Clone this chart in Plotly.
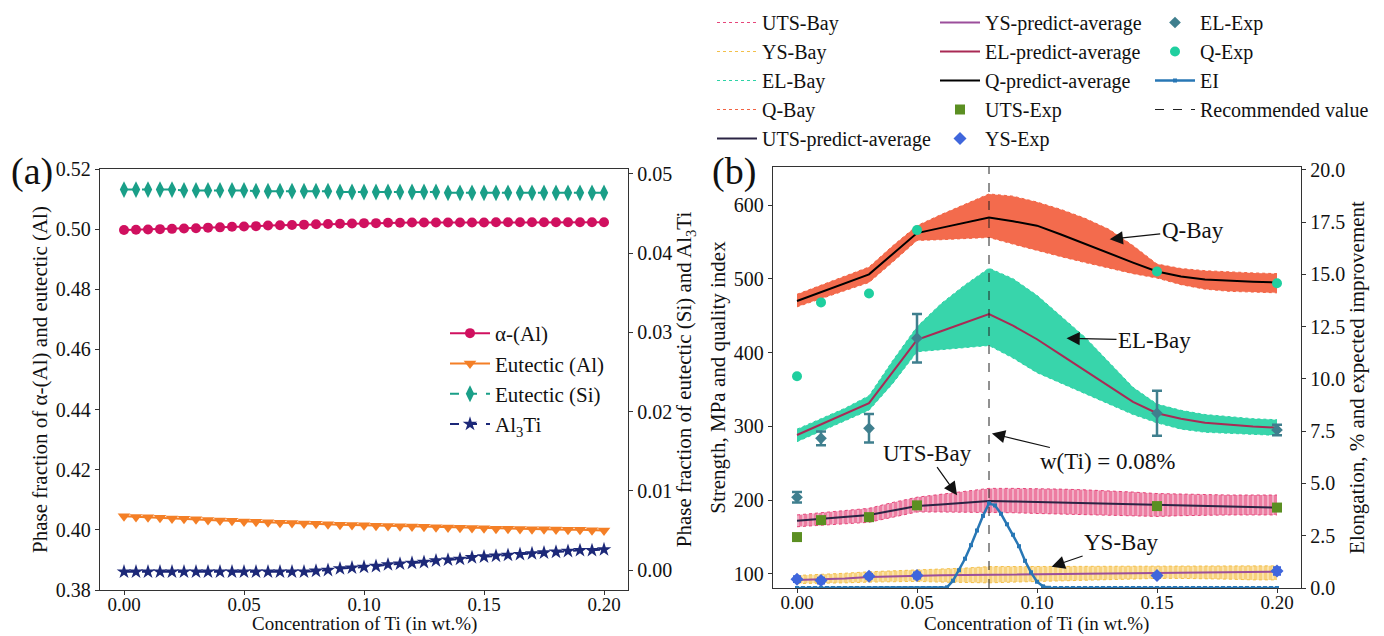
import plotly.graph_objects as go

FONT = "'Liberation Serif', 'Times New Roman', Times, 'DejaVu Serif', serif"
W, H = 1384, 636

# ---------------- (a) phase fractions versus Ti content ----------------
TI_A = [0.000, 0.005, 0.010, 0.015, 0.020, 0.025, 0.030, 0.035, 0.040, 0.045,
        0.050, 0.055, 0.060, 0.065, 0.070, 0.075, 0.080, 0.085, 0.090, 0.095,
        0.100, 0.105, 0.110, 0.115, 0.120, 0.125, 0.130, 0.135, 0.140, 0.145,
        0.150, 0.155, 0.160, 0.165, 0.170, 0.175, 0.180, 0.185, 0.190, 0.195,
        0.200]
ALPHA_AL = [0.4997, 0.4998, 0.4999, 0.5000, 0.5001, 0.5002, 0.5003, 0.5005, 0.5006, 0.5008,
            0.5009, 0.5010, 0.5012, 0.5013, 0.5014, 0.5015, 0.5016, 0.5017, 0.5018, 0.5019,
            0.5020, 0.5020, 0.5021, 0.5021, 0.5022, 0.5022, 0.5022, 0.5022, 0.5022, 0.5022,
            0.5022, 0.5023, 0.5023, 0.5023, 0.5023, 0.5023, 0.5023, 0.5023, 0.5023, 0.5023,
            0.5023]
EUTECTIC_AL = [0.4045, 0.4043, 0.4042, 0.4040, 0.4038, 0.4037, 0.4035, 0.4033, 0.4031, 0.4030,
               0.4028, 0.4027, 0.4025, 0.4024, 0.4023, 0.4021, 0.4020, 0.4019, 0.4017, 0.4016,
               0.4015, 0.4014, 0.4013, 0.4012, 0.4011, 0.4010, 0.4009, 0.4008, 0.4007, 0.4006,
               0.4005, 0.4004, 0.4004, 0.4003, 0.4002, 0.4002, 0.4001, 0.4000, 0.4000, 0.3999,
               0.3998]
EUTECTIC_SI = [0.0480, 0.0480, 0.0480, 0.0480, 0.0480, 0.0479, 0.0479, 0.0479, 0.0479, 0.0479,
               0.0479, 0.0478, 0.0478, 0.0478, 0.0478, 0.0478, 0.0478, 0.0478, 0.0477, 0.0477,
               0.0477, 0.0477, 0.0477, 0.0477, 0.0477, 0.0477, 0.0477, 0.0476, 0.0476, 0.0476,
               0.0476, 0.0476, 0.0476, 0.0476, 0.0476, 0.0476, 0.0476, 0.0476, 0.0476, 0.0476,
               0.0476]
AL3TI = [-0.0002, -0.0002, -0.0002, -0.0002, -0.0002, -0.0002, -0.0002, -0.0002, -0.0002, -0.0002,
         -0.0002, -0.0002, -0.0002, -0.0002, -0.0002, -0.0002, -0.0001, 0.0000, 0.0002, 0.0003,
         0.0004, 0.0005, 0.0007, 0.0008, 0.0009, 0.0010, 0.0012, 0.0013, 0.0014, 0.0016,
         0.0017, 0.0018, 0.0019, 0.0020, 0.0021, 0.0022, 0.0023, 0.0024, 0.0025, 0.0025,
         0.0026]

# ---------------- (b) properties, Bayesian predictions and EI ----------------
TI_B = [0.00, 0.01, 0.02, 0.03, 0.04, 0.05, 0.06, 0.07, 0.08, 0.09, 0.10,
        0.11, 0.12, 0.13, 0.14, 0.15, 0.16, 0.17, 0.18, 0.19, 0.20]

Q_AVG = [470, 482, 494, 506, 534, 562, 569, 576, 583, 578, 572,
         560, 547, 535, 522, 510, 503, 499, 497, 496, 495]
Q_BAY_LO = [462, 473, 484, 495, 523, 552, 553, 554, 556, 547, 538,
            530, 522, 514, 507, 501, 492, 486, 483, 482, 481]
Q_BAY_HI = [479, 491, 503, 516, 545, 572, 587, 601, 615, 612, 604,
            594, 582, 567, 545, 520, 514, 511, 509, 508, 507]

EL_AVG = [7.32, 7.83, 8.33, 8.84, 10.35, 11.87, 12.28, 12.69, 13.10, 12.55, 11.90,
          11.15, 10.40, 9.65, 8.90, 8.36, 8.10, 7.90, 7.80, 7.72, 7.67]
EL_BAY_LO = [7.0, 7.5, 8.0, 8.5, 9.8, 11.3, 11.4, 11.5, 11.6, 11.0, 10.3,
             9.8, 9.3, 8.8, 8.3, 7.9, 7.6, 7.45, 7.4, 7.35, 7.3]
EL_BAY_HI = [7.6, 8.1, 8.6, 9.2, 10.9, 12.5, 13.6, 14.5, 15.3, 14.8, 14.0,
             13.0, 12.0, 10.8, 9.6, 8.8, 8.5, 8.3, 8.2, 8.1, 8.05]

UTS_AVG = [172, 174.5, 177, 180, 186, 192, 194.3, 196.6, 199, 198.2, 197.4,
           196.6, 195.8, 195, 194, 193, 192.4, 191.8, 191.2, 190.6, 190]
UTS_BAY_LO = [164, 166, 168, 170, 177, 184, 184, 184, 184, 183, 182,
              181, 180, 179, 178, 178, 179, 180, 180, 180, 180]
UTS_BAY_HI = [180, 183, 186, 189, 197, 204, 208, 212, 216, 216, 216,
              215, 214, 213, 211, 209, 208, 208, 207, 207, 207]

YS_AVG = [92, 92.5, 94, 96, 97, 98, 98.3, 98.6, 99, 99.2, 99.5,
          99.7, 100, 100.2, 100.5, 101, 101.4, 101.8, 102.2, 102.6, 103]
YS_BAY_LO = [87, 87, 88, 89, 90, 90, 89, 88, 88, 89, 90,
             91, 92, 93, 93, 94, 94, 94, 93, 92, 92]
YS_BAY_HI = [98, 99, 101, 103, 104, 105, 106, 108, 110, 110, 111,
             111, 111, 110, 110, 110, 110, 110, 110, 111, 111]

TI_EXP = [0.00, 0.01, 0.03, 0.05, 0.15, 0.20]
UTS_EXP = [150, 173, 177, 193, 192, 190]
UTS_EXP_ERR = [3, 3, 4, 4, 3, 3]
YS_EXP = [93, 91, 97, 98, 98, 104]
YS_EXP_ERR = [4, 4, 3, 4, 3, 5]
EL_EXP = [4.34, 7.16, 7.64, 11.95, 8.36, 7.56]
EL_EXP_ERR = [0.25, 0.33, 0.68, 1.16, 1.08, 0.25]
Q_EXP = [368, 468, 480, 566, 510, 494]

TI_EI = [0.0000, 0.0025, 0.0050, 0.0075, 0.0100, 0.0125, 0.0150, 0.0175, 0.0200, 0.0225,
         0.0250, 0.0275, 0.0300, 0.0325, 0.0350, 0.0375, 0.0400, 0.0425, 0.0450, 0.0475,
         0.0500, 0.0525, 0.0550, 0.0575, 0.0600, 0.0625, 0.0650, 0.0675, 0.0700, 0.0725,
         0.0750, 0.0775, 0.0800, 0.0825, 0.0850, 0.0875, 0.0900, 0.0925, 0.0950, 0.0975,
         0.1000, 0.1025, 0.1050, 0.1075, 0.1100, 0.1125, 0.1150, 0.1175, 0.1200, 0.1225,
         0.1250, 0.1275, 0.1300, 0.1325, 0.1350, 0.1375, 0.1400, 0.1425, 0.1450, 0.1475,
         0.1500, 0.1525, 0.1550, 0.1575, 0.1600, 0.1625, 0.1650, 0.1675, 0.1700, 0.1725,
         0.1750, 0.1775, 0.1800, 0.1825, 0.1850, 0.1875, 0.1900, 0.1925, 0.1950, 0.1975,
         0.2000]
EI = [0.00, 0.00, 0.00, 0.00, 0.00, 0.00, 0.00, 0.00, 0.00, 0.00,
      0.00, 0.00, 0.00, 0.00, 0.00, 0.00, 0.00, 0.00, 0.00, 0.00,
      0.00, 0.00, 0.00, 0.00, 0.00, 0.03, 0.35, 0.85, 1.40, 2.05,
      2.75, 3.45, 4.05, 3.95, 3.55, 3.05, 2.55, 2.00, 1.30, 0.75,
      0.30, 0.08, 0.01, 0.00, 0.00, 0.00, 0.00, 0.00, 0.00, 0.00,
      0.00, 0.00, 0.00, 0.00, 0.00, 0.00, 0.00, 0.00, 0.00, 0.00,
      0.00, 0.00, 0.00, 0.00, 0.00, 0.00, 0.00, 0.00, 0.00, 0.00,
      0.00, 0.00, 0.00, 0.00, 0.00, 0.00, 0.00, 0.00, 0.00, 0.00,
      0.00]
TI_RECOMMENDED = 0.08

# axis ranges
X_RANGE = [-0.01, 0.21]
A_LEFT = [0.38, 0.52]
A_RIGHT = [-0.0025, 0.0506]
B_LEFT = [81, 651.5]
B_RIGHT = [0, 20.14]

# colours
C_ALPHA, C_EUT_AL, C_EUT_SI, C_AL3TI = "#d0105f", "#f47f26", "#1a9f88", "#1c2878"
C_UTS_BAY, C_YS_BAY, C_EL_BAY, C_Q_BAY = "#e6467a", "#f3c04a", "#2dd3a6", "#f26343"
C_UTS_AVG, C_YS_AVG, C_EL_AVG, C_Q_AVG = "#2b2444", "#9b4f9b", "#a92a55", "#000000"
C_UTS_EXP, C_YS_EXP, C_EL_EXP, C_Q_EXP = "#5b8f22", "#3f66dc", "#3f7f8e", "#1fcf9f"
C_EI = "#2877b5"
AXC = "#333333"
TXT = "#111111"

fig = go.Figure()

# ---- panel (a) ----
fig.add_trace(go.Scatter(x=TI_A, y=ALPHA_AL, name="α-(Al)", mode="lines+markers",
                         line=dict(color=C_ALPHA, width=2),
                         marker=dict(symbol="circle", size=10, color=C_ALPHA),
                         xaxis="x", yaxis="y", legend="legend"))
fig.add_trace(go.Scatter(x=TI_A, y=EUTECTIC_AL, name="Eutectic (Al)", mode="lines+markers",
                         line=dict(color=C_EUT_AL, width=2),
                         marker=dict(symbol="triangle-down", size=11, color=C_EUT_AL),
                         xaxis="x", yaxis="y", legend="legend"))
fig.add_trace(go.Scatter(x=TI_A, y=EUTECTIC_SI, name="Eutectic (Si)", mode="lines+markers",
                         line=dict(color=C_EUT_SI, width=2, dash="dash"),
                         marker=dict(symbol="diamond-tall", size=12, color=C_EUT_SI),
                         xaxis="x", yaxis="y2", legend="legend"))
fig.add_trace(go.Scatter(x=TI_A, y=AL3TI, name="Al<sub>3</sub>Ti", mode="lines+markers",
                         line=dict(color=C_AL3TI, width=2, dash="dash"),
                         marker=dict(symbol="star", size=11, color=C_AL3TI),
                         xaxis="x", yaxis="y2", legend="legend"))


# ---- panel (b) ----
def bay_band(lo, hi, name, color, fill, rank, yaxis, pattern=None):
    fig.add_trace(go.Scatter(x=TI_B, y=lo, name=name, mode="lines",
                             line=dict(color=color, width=1, dash="dot"),
                             xaxis="x2", yaxis=yaxis, legend="legend2", legendrank=rank))
    kw = dict(fillpattern=pattern) if pattern else {}
    fig.add_trace(go.Scatter(x=TI_B, y=hi, mode="lines", showlegend=False,
                             line=dict(color=color, width=1, dash="dot"),
                             fill="tonexty", fillcolor=fill,
                             xaxis="x2", yaxis=yaxis, **kw))


bay_band(UTS_BAY_LO, UTS_BAY_HI, "UTS-Bay", C_UTS_BAY, "rgba(240,150,180,0.7)", 1, "y3",
         dict(shape="|", fgcolor=C_UTS_BAY, size=5, solidity=0.65))
bay_band(YS_BAY_LO, YS_BAY_HI, "YS-Bay", C_YS_BAY, "rgba(250,220,150,0.75)", 2, "y3",
         dict(shape="|", fgcolor=C_YS_BAY, size=5, solidity=0.65))
bay_band(Q_BAY_LO, Q_BAY_HI, "Q-Bay", C_Q_BAY, "rgba(242,99,67,0.95)", 4, "y3")

fig.add_trace(go.Scatter(x=TI_B, y=UTS_AVG, name="UTS-predict-average", mode="lines",
                         line=dict(color=C_UTS_AVG, width=2),
                         xaxis="x2", yaxis="y3", legend="legend2", legendrank=5))
fig.add_trace(go.Scatter(x=TI_B, y=YS_AVG, name="YS-predict-average", mode="lines",
                         line=dict(color=C_YS_AVG, width=2),
                         xaxis="x2", yaxis="y3", legend="legend3", legendrank=6))
fig.add_trace(go.Scatter(x=TI_B, y=Q_AVG, name="Q-predict-average", mode="lines",
                         line=dict(color=C_Q_AVG, width=2),
                         xaxis="x2", yaxis="y3", legend="legend3", legendrank=8))

fig.add_trace(go.Scatter(x=TI_EXP, y=UTS_EXP, name="UTS-Exp", mode="markers",
                         marker=dict(symbol="square", size=10, color=C_UTS_EXP),
                         error_y=dict(type="data", array=UTS_EXP_ERR, color=C_UTS_EXP,
                                      thickness=2, width=4),
                         xaxis="x2", yaxis="y3", legend="legend3", legendrank=9))
fig.add_trace(go.Scatter(x=TI_EXP, y=YS_EXP, name="YS-Exp", mode="markers",
                         marker=dict(symbol="diamond", size=10, color=C_YS_EXP),
                         error_y=dict(type="data", array=YS_EXP_ERR, color=C_YS_EXP,
                                      thickness=2, width=4),
                         xaxis="x2", yaxis="y3", legend="legend3", legendrank=10))
fig.add_trace(go.Scatter(x=TI_EXP, y=Q_EXP, name="Q-Exp", mode="markers",
                         marker=dict(symbol="circle", size=10, color=C_Q_EXP),
                         xaxis="x2", yaxis="y3", legend="legend4", legendrank=12))

# elongation-scale traces on the right axis
bay_band(EL_BAY_LO, EL_BAY_HI, "EL-Bay", C_EL_BAY, "rgba(45,211,166,0.95)", 3, "y4")
fig.add_trace(go.Scatter(x=TI_B, y=EL_AVG, name="EL-predict-average", mode="lines",
                         line=dict(color=C_EL_AVG, width=2),
                         xaxis="x2", yaxis="y4", legend="legend3", legendrank=7))
fig.add_trace(go.Scatter(x=TI_EXP, y=EL_EXP, name="EL-Exp", mode="markers",
                         marker=dict(symbol="diamond", size=9, color=C_EL_EXP),
                         error_y=dict(type="data", array=EL_EXP_ERR, color=C_EL_EXP,
                                      thickness=2.5, width=5),
                         xaxis="x2", yaxis="y4", legend="legend4", legendrank=11))
fig.add_trace(go.Scatter(x=TI_EI, y=EI, name="EI", mode="lines+markers",
                         line=dict(color=C_EI, width=2.5),
                         marker=dict(symbol="square", size=4, color=C_EI),
                         xaxis="x2", yaxis="y4", legend="legend4", legendrank=13))
fig.add_trace(go.Scatter(x=[TI_RECOMMENDED, TI_RECOMMENDED], y=B_RIGHT,
                         name="Recommended value", mode="lines",
                         line=dict(color="#222222", width=1, dash="dash"),
                         xaxis="x2", yaxis="y4", legend="legend4", legendrank=14))

# ---- axes ----
tickfont = dict(family=FONT, size=20, color=TXT)
xtickfont = dict(family=FONT, size=19, color=TXT)
titlefont = dict(family=FONT, size=21, color=TXT)
xtitlefont = dict(family=FONT, size=19, color=TXT)
common = dict(showgrid=False, zeroline=False, ticks="outside", ticklen=4, tickwidth=1,
              tickcolor=AXC, showline=True, linecolor=AXC, linewidth=1.3)

dom_a_x = [100 / W, 628 / W]
dom_b_x = [773 / W, 1301 / W]
dom_a_y = [1 - 590 / H, 1 - 169 / H]
dom_b_y = [1 - 588 / H, 1 - 167 / H]

fig.update_layout(
    xaxis=dict(domain=dom_a_x, range=X_RANGE, anchor="y", tickvals=[0, 0.05, 0.1, 0.15, 0.2],
               tickformat=".2f", mirror=True, tickfont=xtickfont, ticklabelstandoff=-7, **common),
    yaxis=dict(domain=dom_a_y, range=A_LEFT, anchor="x", dtick=0.02, tick0=0.38, tickformat=".2f",
               tickfont=tickfont,
               title=dict(text="Phase fraction of α-(Al) and eutectic (Al)", font=titlefont, standoff=2),
               **common),
    yaxis2=dict(overlaying="y", side="right", anchor="x", range=A_RIGHT, dtick=0.01, tick0=0,
                tickformat=".2f", tickfont=tickfont,
                title=dict(text="Phase fraction of eutectic (Si) and Al<sub>3</sub>Ti",
                           font=titlefont, standoff=2), **common),
    xaxis2=dict(domain=dom_b_x, range=X_RANGE, anchor="y3", tickvals=[0, 0.05, 0.1, 0.15, 0.2],
                tickformat=".2f", mirror=True, tickfont=xtickfont, ticklabelstandoff=-7, **common),
    yaxis3=dict(domain=dom_b_y, range=B_LEFT, anchor="x2", dtick=100, tick0=0, tickfont=tickfont,
                title=dict(text="Strength, MPa and quality index", font=titlefont, standoff=2),
                **common),
    yaxis4=dict(overlaying="y3", side="right", anchor="x2", range=B_RIGHT, dtick=2.5, tick0=0,
                tickformat=".1f", tickfont=tickfont,
                title=dict(text="Elongation, % and expected improvement", font=titlefont, standoff=2),
                **common),
)

# ---- legends ----
leg_common = dict(bgcolor="rgba(0,0,0,0)", borderwidth=0, orientation="v",
                  xanchor="left", yanchor="top", traceorder="normal", itemwidth=40)
fig.update_layout(
    legend=dict(x=445 / W, y=1 - 313 / H, font=dict(family=FONT, size=21, color=TXT),
                **leg_common),
    legend2=dict(x=712 / W, y=1 - 3 / H, font=dict(family=FONT, size=20, color=TXT),
                 tracegroupgap=0, **leg_common),
    legend3=dict(x=935 / W, y=1 - 3 / H, font=dict(family=FONT, size=20, color=TXT),
                 tracegroupgap=0, **leg_common),
    legend4=dict(x=1150 / W, y=1 - 3 / H, font=dict(family=FONT, size=20, color=TXT),
                 tracegroupgap=0, **leg_common),
)

# ---- panel labels, x-axis titles and arrows ----
ann_font = dict(family=FONT, size=23, color=TXT)
annotations = [
    dict(text="(a)", x=32 / W, y=1 - 171 / H, xref="paper", yref="paper", showarrow=False,
         xanchor="center", yanchor="middle", font=dict(family=FONT, size=38, color=TXT)),
    dict(text="(b)", x=734 / W, y=1 - 172 / H, xref="paper", yref="paper", showarrow=False,
         xanchor="center", yanchor="middle", font=dict(family=FONT, size=38, color=TXT)),
    dict(text="Concentration of Ti (in wt.%)", x=sum(dom_a_x) / 2, y=0,
         xref="paper", yref="paper", showarrow=False, xanchor="center", yanchor="bottom",
         borderpad=0, font=xtitlefont),
    dict(text="Concentration of Ti (in wt.%)", x=sum(dom_b_x) / 2, y=0,
         xref="paper", yref="paper", showarrow=False, xanchor="center", yanchor="bottom",
         borderpad=0, font=xtitlefont),
]
arrows = [
    ("Q-Bay", 0.1303, 553.5, 83, -9),
    ("EL-Bay", 0.1123, 419.4, 88, 2),
    ("UTS-Bay", 0.0667, 206.8, -30, -42),
    ("w(Ti) = 0.08%", 0.0812, 290.4, 116, 28),
    ("YS-Bay", 0.1061, 109.9, 70, -24),
]
for txt, xh, yh, ax, ay in arrows:
    annotations.append(dict(text=txt, x=xh, y=yh, xref="x2", yref="y3", ax=ax, ay=ay,
                            showarrow=True, arrowhead=2, arrowsize=2.2, arrowwidth=1.2,
                            arrowcolor=TXT, font=ann_font))
fig.update_layout(annotations=annotations)

fig.update_layout(width=W, height=H, margin=dict(l=0, r=0, t=0, b=0, autoexpand=False),
                  paper_bgcolor="white", plot_bgcolor="white",
                  font=dict(family=FONT, color=TXT))

fig.write_html("out.html")
